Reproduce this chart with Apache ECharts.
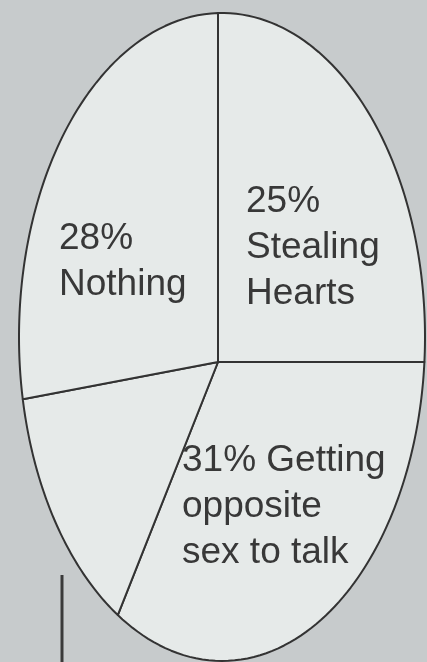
<!DOCTYPE html>
<html>
<head>
<meta charset="utf-8">
<script src="https://cdn.jsdelivr.net/npm/echarts@6/dist/echarts.min.js"></script>
<style>
  html, body { margin: 0; padding: 0; background: #c7cbcc; }
  #chart { width: 427px; height: 662px; }
</style>
</head>
<body>
<div id="chart"></div>
<script>
// Slice names (line breaks as printed), and their shares in percent, clockwise from 12 o'clock
const categories = ['Stealing\nHearts', 'Getting\nopposite\nsex to talk', '', 'Nothing'];
const shares = [25, 31, 16, 28];

// Layout: the oval outline, the point where the slices meet, and label anchors
const oval = { cx: 222, cy: 337, rx: 203, ry: 324, vx: 218, vy: 362 };
const labelAt = [[246, 179, '\n'], [182, 438, ' '], null, [59, 216, '\n']];

const total = shares.reduce((s, v) => s + v, 0);
let acc = 0;
const sliceData = shares.map(v => { const d = [acc, v]; acc += v; return d; });

// Point where a ray leaving the meeting point at angle a (clockwise from up) meets the oval
function rim(a) {
  const dx = Math.sin(a), dy = -Math.cos(a);
  const px = oval.vx - oval.cx, py = oval.vy - oval.cy;
  const rx2 = oval.rx * oval.rx, ry2 = oval.ry * oval.ry;
  const A = dx * dx / rx2 + dy * dy / ry2;
  const B = 2 * (px * dx / rx2 + py * dy / ry2);
  const C = px * px / rx2 + py * py / ry2 - 1;
  const t = (-B + Math.sqrt(B * B - 4 * A * C)) / (2 * A);
  return [oval.vx + t * dx, oval.vy + t * dy];
}

function renderSlice(params, api) {
  const i = params.dataIndex;
  const start = api.value(0), val = api.value(1);
  const a0 = start / total * Math.PI * 2;
  const a1 = (start + val) / total * Math.PI * 2;
  const pts = [[oval.vx, oval.vy]];
  const n = 90;
  for (let k = 0; k <= n; k++) pts.push(rim(a0 + (a1 - a0) * k / n));
  const children = [{
    type: 'polygon',
    shape: { points: pts },
    style: { fill: '#e6eae9', stroke: '#333333', lineWidth: 2, lineJoin: 'round' }
  }];
  const lab = labelAt[i];
  if (lab) {
    children.push({
      type: 'text',
      style: {
        text: val + '%' + lab[2] + categories[i],
        x: lab[0], y: lab[1],
        fontFamily: '"Liberation Sans", Arial, sans-serif',
        fontSize: 37,
        lineHeight: 46,
        fill: '#383838',
        align: 'left',
        verticalAlign: 'top'
      }
    });
  }
  return { type: 'group', children };
}

const chart = echarts.init(document.getElementById('chart'), null, { renderer: 'canvas' });
chart.setOption({
  backgroundColor: '#c7cbcc',
  animation: false,
  series: [{
    type: 'custom',
    coordinateSystem: 'none',
    renderItem: renderSlice,
    data: sliceData
  }],
  graphic: [{
    // leader rule below the oval on the left
    type: 'line',
    shape: { x1: 62, y1: 575, x2: 62, y2: 662 },
    style: { stroke: '#3a3a3a', lineWidth: 3 }
  }]
});
</script>
</body>
</html>
